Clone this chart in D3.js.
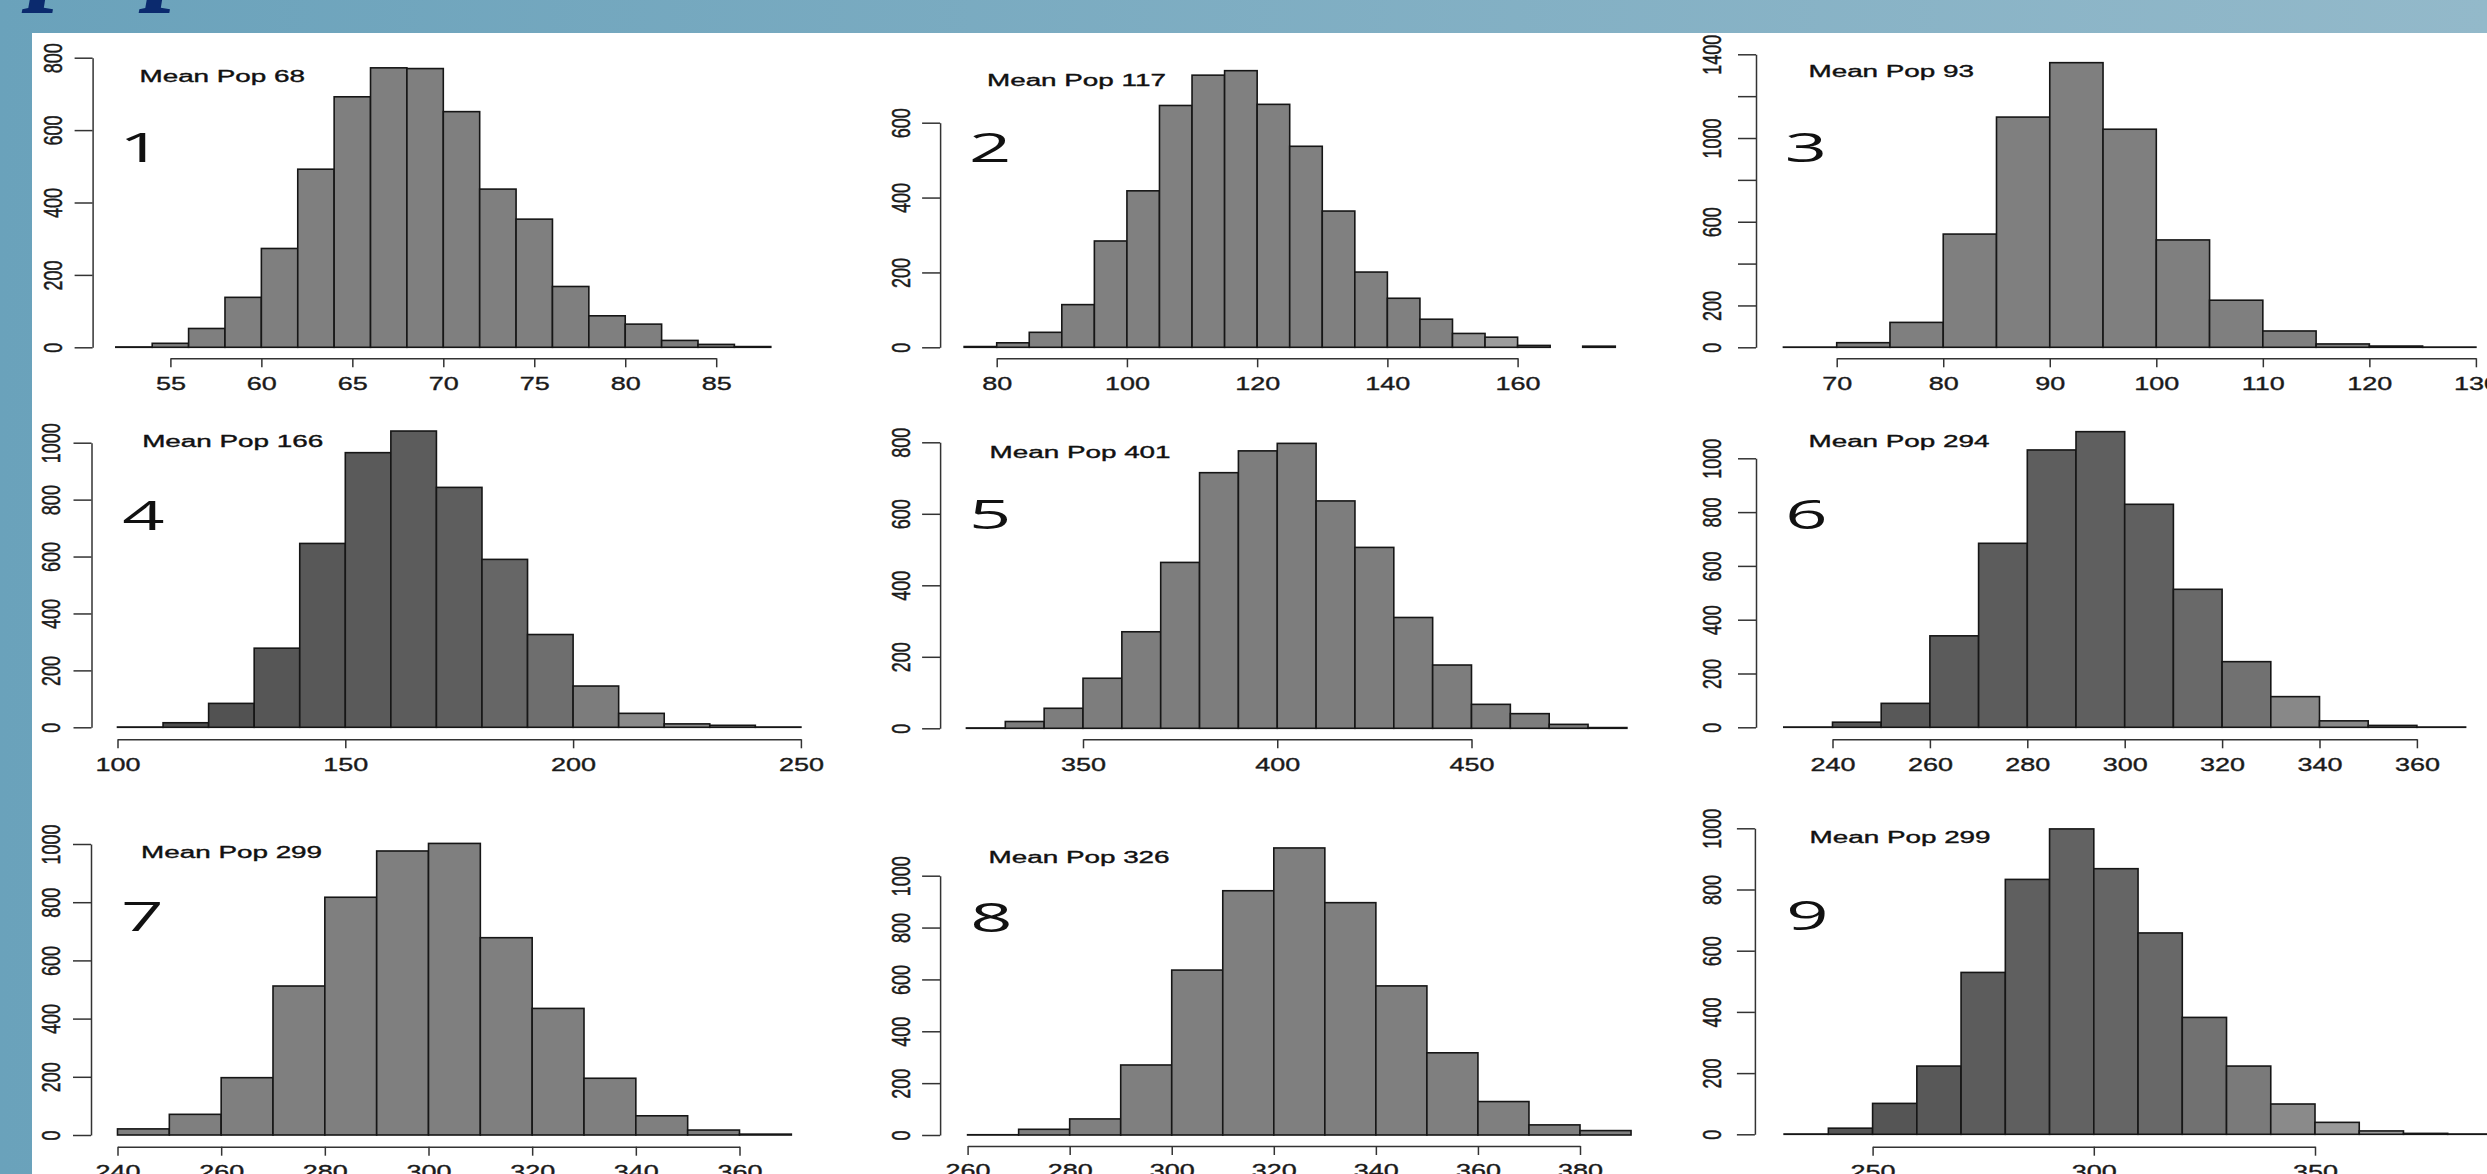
<!DOCTYPE html>
<html lang="en">
<head>
<meta charset="utf-8">
<title>Mean Pop histograms</title>
<script src="https://cdnjs.cloudflare.com/ajax/libs/d3/7.8.5/d3.min.js"></script>
<style>
  body { margin: 0; overflow: hidden; background: #fff; }
  svg { display: block; }
</style>
</head>
<body>
<script>
// counts per bin (bins start at binStarts, binWidths wide)
const binStarts = [52, 75, 65, 100, 320, 230, 240, 260, 230];
const binWidths = [2, 5, 5, 10, 10, 10, 10, 10, 10];
const counts1 = [1, 11, 52, 138, 273, 492, 692, 772, 770, 651, 437, 354, 168, 87, 64, 19, 8, 2];
const counts2 = [2, 12, 40, 114, 284, 418, 646, 727, 739, 649, 537, 364, 201, 131, 75, 37, 27, 5, 0, 3];
const counts3 = [1, 22, 119, 541, 1100, 1360, 1042, 513, 225, 78, 16, 6, 1];
const counts4 = [1, 16, 84, 278, 646, 965, 1041, 843, 590, 326, 145, 49, 12, 7, 1];
const counts5 = [1, 19, 56, 140, 270, 464, 715, 776, 797, 636, 506, 310, 177, 67, 41, 11, 2];
const counts6 = [1, 19, 89, 340, 684, 1031, 1099, 829, 513, 244, 114, 24, 7, 1];
const counts7 = [21, 71, 197, 512, 817, 976, 1002, 678, 435, 195, 66, 17, 3];
const counts8 = [1, 22, 62, 270, 636, 942, 1107, 896, 575, 317, 129, 39, 17];
const counts9 = [1, 20, 101, 223, 529, 833, 998, 868, 658, 382, 223, 99, 39, 11, 3, 1];
const allCounts = [counts1, counts2, counts3, counts4, counts5, counts6, counts7, counts8, counts9];

const meanPops = [68, 117, 93, 166, 401, 294, 299, 326, 299];
const panelNames = ["1", "2", "3", "4", "5", "6", "7", "8", "9"];

// tick labels
const xTicks = [
  [55, 60, 65, 70, 75, 80, 85],
  [80, 100, 120, 140, 160],
  [70, 80, 90, 100, 110, 120, 130],
  [100, 150, 200, 250],
  [350, 400, 450],
  [240, 260, 280, 300, 320, 340, 360],
  [240, 260, 280, 300, 320, 340, 360],
  [260, 280, 300, 320, 340, 360, 380],
  [250, 300, 350]
];
const yTickMax = [800, 600, 1400, 1000, 800, 1000, 1000, 1000, 1000];
const yTickStep = 200;
const yUnlabelled = [[], [], [400, 800, 1200], [], [], [], [], [], []];

// where each little plot sits on the page (pixel anchors for the scales)
const layout = [
  {yAxisX: 92.6,  yLabX: 53,     y: [[0, 347.3], [800, 57.7]],   x: [[55, 170.4], [85, 716.2]],    xAxisY: 358.3,  mean: [139.5, 82.3],  num: [140.3, 161.7]},
  {yAxisX: 940.1, yLabX: 901.5,  y: [[0, 347.3], [600, 122.7]],  x: [[80, 996.7], [160, 1517.6]],  xAxisY: 358.3,  mean: [987, 86],      num: [990.1, 161.7]},
  {yAxisX: 1756,  yLabX: 1712.7, y: [[0, 347.3], [1400, 54.3]],  x: [[70, 1836.7], [130, 2475.9]], xAxisY: 358.3,  mean: [1808.5, 77.3], num: [1805.8, 161.7]},
  {yAxisX: 91.5,  yLabX: 51.3,   y: [[0, 727.3], [1000, 442.7]], x: [[100, 117.5], [250, 800.9]],  xAxisY: 739.3,  mean: [142.2, 446.7], num: [143.4, 530]},
  {yAxisX: 940.1, yLabX: 901.5,  y: [[0, 728.3], [800, 442.3]],  x: [[350, 1083], [450, 1471.5]],  xAxisY: 739.3,  mean: [989.6, 457.7], num: [990.1, 529.3]},
  {yAxisX: 1756,  yLabX: 1712.7, y: [[0, 727.3], [1000, 458.3]], x: [[240, 1832.5], [360, 2416.9]], xAxisY: 739.3, mean: [1808.5, 447.3], num: [1806.4, 529.3]},
  {yAxisX: 91,    yLabX: 51.3,   y: [[0, 1135], [1000, 844]],    x: [[240, 117.5], [360, 739.5]],  xAxisY: 1146.7, mean: [141.1, 858.3], num: [142.4, 930.7]},
  {yAxisX: 940.1, yLabX: 901.5,  y: [[0, 1135], [1000, 875.7]],  x: [[260, 967.6], [380, 1580]],   xAxisY: 1146,   mean: [988.6, 863.3], num: [991.5, 931.7]},
  {yAxisX: 1754.9, yLabX: 1712.7, y: [[0, 1134.3], [1000, 828.3]], x: [[250, 1872.6], [350, 2315]], xAxisY: 1146.7, mean: [1809.6, 843.3], num: [1807.5, 930]}
];

// bar fill shading (the scan is darker on some panels)
const barShade = [
  [[0, 1], ["#7f7f7f", "#7f7f7f"]],
  [[147.5, 152.5, 157.5, 162.5], ["#808080", "#929292", "#9c9c9c", "#808080"]],
  [[0, 1], ["#7f7f7f", "#7f7f7f"]],
  [[115, 135, 175, 195, 215], ["#4e4e4e", "#565656", "#5e5e5e", "#6e6e6e", "#8a8a8a"]],
  [[0, 1], ["#7d7d7d", "#7d7d7d"]],
  [[245, 265, 305, 325, 335], ["#555555", "#5b5b5b", "#606060", "#717171", "#888888"]],
  [[0, 1], ["#7f7f7f", "#7f7f7f"]],
  [[0, 1], ["#7f7f7f", "#7f7f7f"]],
  [[255, 285, 315, 335, 355], ["#555555", "#5f5f5f", "#686868", "#7a7a7a", "#9a9a9a"]]
];

const W = 2487, H = 1174;
const SX_AXIS = 1.5, SX_YLAB = 1.43, SX_MEAN = 1.74, SX_NUM = 1.85;

const svg = d3.select("body").append("svg")
  .attr("width", W).attr("height", H);

const defs = svg.append("defs");
const bg = defs.append("linearGradient").attr("id", "bg")
  .attr("x1", "0%").attr("x2", "100%").attr("y1", "0%").attr("y2", "0%");
bg.append("stop").attr("offset", "0%").attr("stop-color", "#6aa2bb");
bg.append("stop").attr("offset", "100%").attr("stop-color", "#93b9ca");

svg.append("rect").attr("width", W).attr("height", H).attr("fill", "url(#bg)");

// slide title, mostly off the top edge
svg.append("text")
  .attr("x", 30).attr("y", -12)
  .attr("font-family", "Liberation Serif")
  .attr("font-style", "italic").attr("font-weight", "bold")
  .attr("font-size", 117)
  .attr("fill", "#0b2a6e")
  .text("population");

svg.append("rect").attr("x", 32).attr("y", 33)
  .attr("width", W - 32).attr("height", H - 33).attr("fill", "#fff");

allCounts.forEach(function(counts, i) {
  const L = layout[i];
  const g = svg.append("g");

  const x = d3.scaleLinear().domain([L.x[0][0], L.x[1][0]]).range([L.x[0][1], L.x[1][1]]);
  const y = d3.scaleLinear().domain([L.y[0][0], L.y[1][0]]).range([L.y[0][1], L.y[1][1]]);
  const shade = d3.scaleLinear().domain(barShade[i][0]).range(barShade[i][1]).clamp(true);

  const bins = counts.map(function(c, k) {
    const x0 = binStarts[i] + k * binWidths[i];
    return {x0: x0, x1: x0 + binWidths[i], n: c};
  });

  g.selectAll("rect.bar")
    .data(bins)
    .enter()
    .append("rect")
    .attr("class", "bar")
    .attr("x", d => x(d.x0))
    .attr("width", d => x(d.x1) - x(d.x0))
    .attr("y", d => y(d.n))
    .attr("height", d => y(0) - y(d.n))
    .attr("fill", d => shade((d.x0 + d.x1) / 2))
    .attr("stroke", "#161616")
    .attr("stroke-width", 1.6);

  // x axis, R style: line only between first and last tick
  const tk = xTicks[i];
  const xa = x.copy().domain([tk[0], tk[tk.length - 1]]).range([x(tk[0]), x(tk[tk.length - 1])]);
  const gx = g.append("g")
    .attr("transform", "translate(0," + L.xAxisY + ")")
    .call(d3.axisBottom(xa).tickValues(tk).tickSize(9).tickSizeOuter(0));

  // y axis
  const ymax = yTickMax[i];
  const ya = y.copy().domain([0, ymax]).range([y(0), y(ymax)]);
  const gy = g.append("g")
    .attr("transform", "translate(" + L.yAxisX + ",0)")
    .call(d3.axisLeft(ya)
      .tickValues(d3.range(0, ymax + 1, yTickStep))
      .tickSize(18).tickSizeOuter(0)
      .tickFormat(d => yUnlabelled[i].includes(d) ? "" : d));

  [gx, gy].forEach(function(a) {
    a.selectAll("path, line").attr("stroke", "#333").attr("stroke-width", 1.5);
    a.selectAll("text")
      .attr("fill", "#1a1a1a")
      .attr("stroke", "#1a1a1a").attr("stroke-width", 0.35)
      .attr("font-family", "Liberation Sans")
      .attr("font-size", 18)
      .attr("text-anchor", "middle")
      .attr("dominant-baseline", "central")
      .attr("x", null).attr("y", null).attr("dy", null);
  });
  gx.selectAll("text").attr("transform", "translate(0,25) scale(" + SX_AXIS + ",1)");
  gy.selectAll("text").attr("transform", "translate(" + (L.yLabX - L.yAxisX) + ",0) scale(" + SX_YLAB + ",1) rotate(-90)");

  g.append("text")
    .attr("transform", "translate(" + L.mean[0] + "," + L.mean[1] + ") scale(" + SX_MEAN + ",1)")
    .attr("font-family", "Liberation Sans")
    .attr("font-size", 16)
    .attr("fill", "#111")
    .attr("stroke", "#111").attr("stroke-width", 0.35)
    .text("Mean Pop " + meanPops[i]);

  g.append("text")
    .attr("transform", "translate(" + L.num[0] + "," + L.num[1] + ") scale(" + SX_NUM + ",1)")
    .attr("text-anchor", "middle")
    .attr("font-family", "Open Sans")
    .attr("font-size", 40)
    .attr("fill", "#111")
    .text(panelNames[i]);
});
</script>
</body>
</html>
